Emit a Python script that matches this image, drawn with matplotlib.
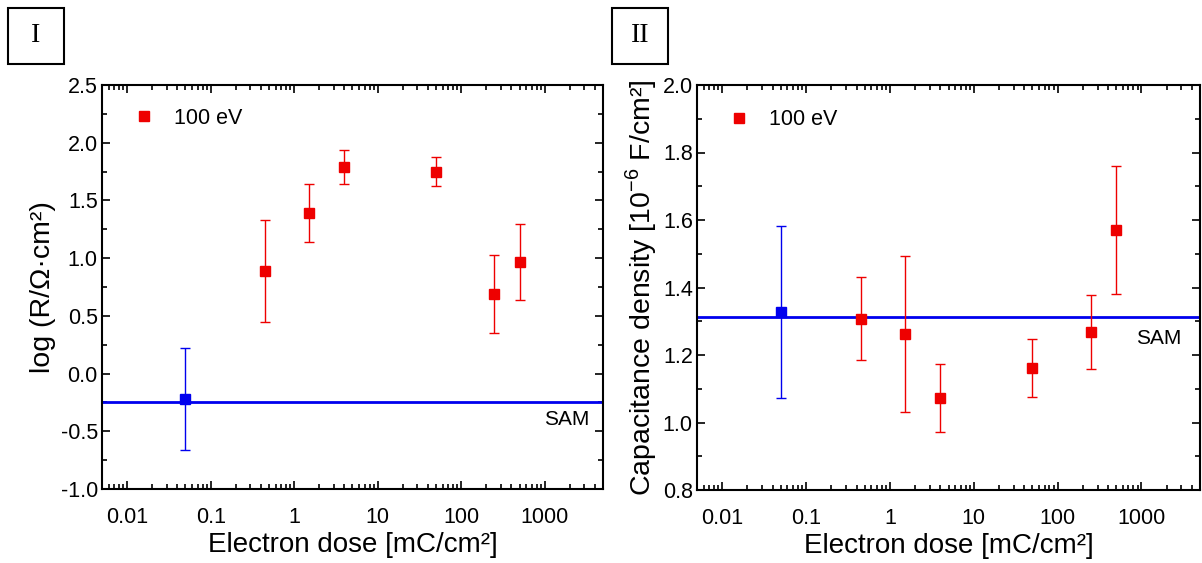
import matplotlib
matplotlib.use("Agg")
import matplotlib.pyplot as plt
import matplotlib.ticker as mticker
from matplotlib.patches import Rectangle
from matplotlib.lines import Line2D

plt.rcParams['font.family'] = ['Liberation Sans', 'DejaVu Sans']
plt.rcParams['mathtext.fontset'] = 'custom'
plt.rcParams['mathtext.rm'] = 'Liberation Sans'

# Electron dose values (mC/cm^2)
dose_sam = [0.05]
dose_100ev = [0.45, 1.5, 4, 50, 250, 500]

# Panel I: log resistance
logR_sam = [-0.22]
logR_sam_err = [0.44]
logR_sam_level = -0.25
logR_100ev = [0.89, 1.39, 1.79, 1.75, 0.69, 0.965]
logR_100ev_err = [0.44, 0.25, 0.15, 0.125, 0.34, 0.33]

# Panel II: capacitance density
cap_sam = [1.327]
cap_sam_err = [0.254]
cap_sam_level = 1.314
cap_100ev = [1.307, 1.262, 1.073, 1.162, 1.269, 1.570]
cap_100ev_err = [0.123, 0.23, 0.10, 0.086, 0.11, 0.19]

xticks = [0.01, 0.1, 1, 10, 100, 1000]
xticklabels = ["0.01", "0.1", "1", "10", "100", "1000"]

RED = "#ee0000"
BLUE = "#0000ee"

fig = plt.figure(figsize=(12.02, 5.63), dpi=100)
axL = fig.add_axes([102/1202, 1-489/563, (603-102)/1202, (489-85)/563])
axR = fig.add_axes([697/1202, 1-490/563, (1200-697)/1202, (490-85)/563])


def style(ax, ylim, major, minor, fmt):
    ax.set_xscale("log")
    ax.set_xlim(0.005, 5000)
    ax.set_ylim(*ylim)
    ax.set_xticks(xticks)
    ax.set_xticklabels(xticklabels)
    ax.xaxis.set_minor_locator(mticker.LogLocator(base=10, subs=range(2, 10), numticks=20))
    ax.xaxis.set_minor_formatter(mticker.NullFormatter())
    ax.yaxis.set_major_locator(mticker.MultipleLocator(major))
    ax.yaxis.set_minor_locator(mticker.MultipleLocator(minor))
    ax.yaxis.set_major_formatter(mticker.FormatStrFormatter(fmt))
    ax.tick_params(which="both", direction="in", top=True, right=True, width=1.2)
    ax.tick_params(which="major", length=6, labelsize=15.5)
    ax.tick_params(which="minor", length=3.5)
    ax.tick_params(axis="x", which="major", pad=13)
    ax.tick_params(axis="y", which="major", pad=3)
    for s in ax.spines.values():
        s.set_linewidth(1.5)
    ax.set_xlabel("Electron dose [mC/cm²]", fontsize=20, labelpad=3)


def draw(ax, sam_y, sam_e, sam_level, y, e, leg_xy):
    ax.axhline(sam_level, color=BLUE, lw=2, zorder=2)
    ax.errorbar(dose_sam, sam_y, yerr=sam_e, fmt="s", color=BLUE, ms=7.5,
                elinewidth=1, capsize=3.5, capthick=1, zorder=3)
    ax.errorbar(dose_100ev, y, yerr=e, fmt="s", color=RED, ms=7.5,
                elinewidth=1, capsize=3.5, capthick=1, zorder=3)
    handle = Line2D([], [], ls="none", marker="s", color=RED, ms=7.5)
    ax.legend([handle], ["100 eV"], loc="center left", bbox_to_anchor=leg_xy,
              frameon=False, fontsize=15.5, handlelength=1.0, handletextpad=0.9,
              borderpad=0, borderaxespad=0, numpoints=1)


style(axL, (-1.0, 2.5), 0.5, 0.25, "%.1f")
draw(axL, logR_sam, logR_sam_err, logR_sam_level, logR_100ev, logR_100ev_err,
     (0.062, 0.917))
axL.set_ylabel("log (R/Ω·cm²)", fontsize=20.5, labelpad=3)
axL.text(0.972, 0.171, "SAM", transform=axL.transAxes, ha="right", va="center", fontsize=15)

style(axR, (0.8, 2.0), 0.2, 0.1, "%.1f")
draw(axR, cap_sam, cap_sam_err, cap_sam_level, cap_100ev, cap_100ev_err,
     (0.062, 0.914))
axR.set_ylabel("Capacitance density [10$^{\\mathregular{-6}}$ F/cm²]", fontsize=20.5, labelpad=3)
axR.text(0.964, 0.373, "SAM", transform=axR.transAxes, ha="right", va="center", fontsize=15)

# Panel labels in boxes
for x0, label in [(8, "I"), (612, "II")]:
    fig.patches.append(Rectangle((x0/1202, 1-64/563), 56/1202, 56/563,
                                 transform=fig.transFigure, fill=False,
                                 edgecolor="black", lw=1.5))
    fig.text((x0+28)/1202, 1-36/563, label, ha="center", va="center",
             fontsize=20, family="Liberation Serif")

fig.savefig("out.png", dpi=100)
